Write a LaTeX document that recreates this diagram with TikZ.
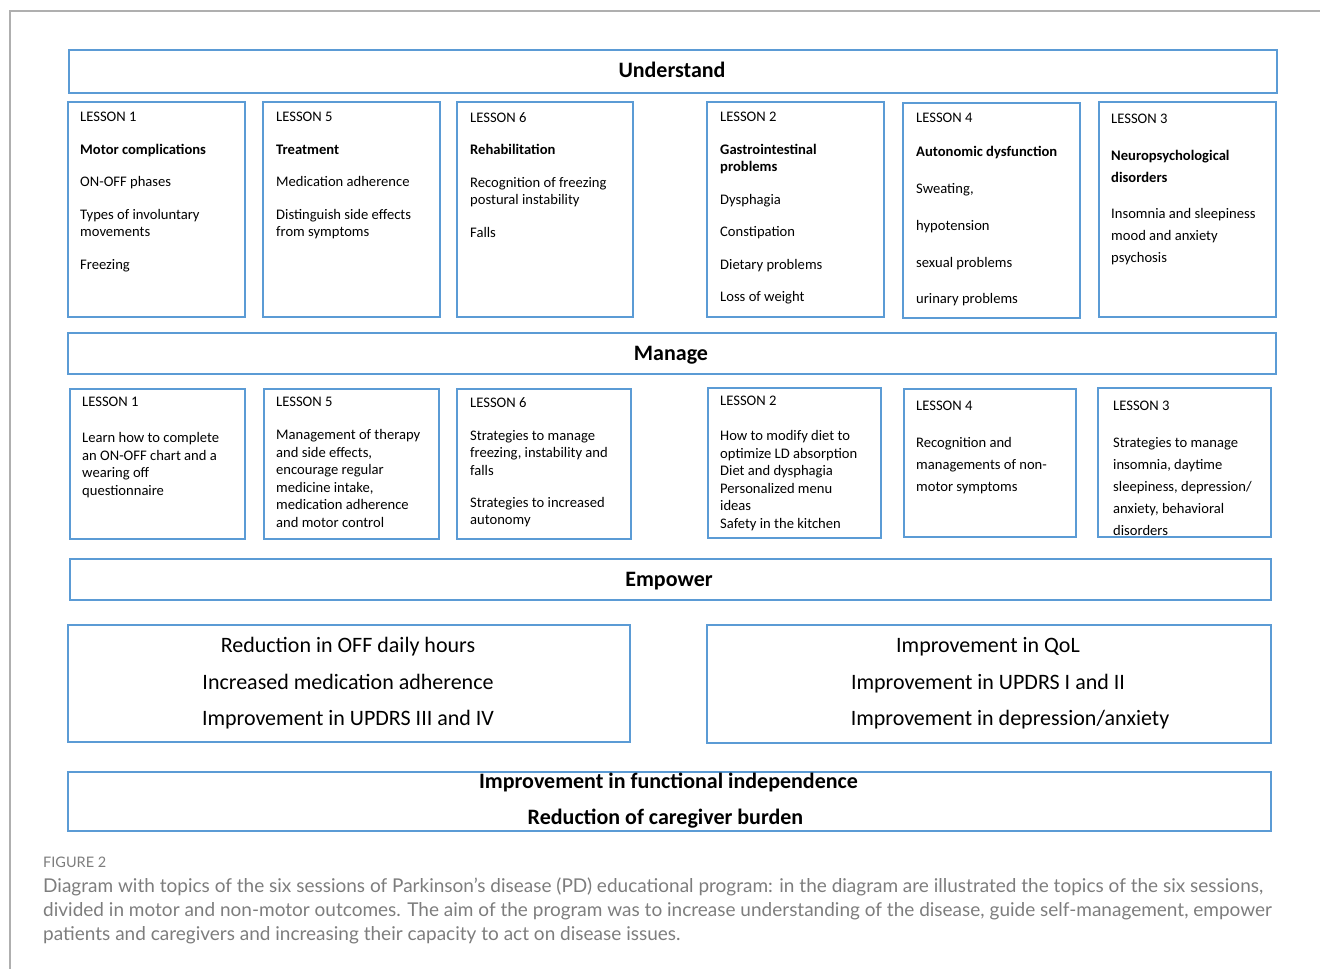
\documentclass[tikz,border=0pt]{standalone}
\usepackage{fontspec}
\setmainfont{Carlito}
\newfontfamily\capfont{Lato}
\definecolor{boxblue}{RGB}{91,155,213}
\definecolor{framegray}{RGB}{175,175,175}
\definecolor{capgray}{RGB}{125,125,125}
\begin{document}
\begin{tikzpicture}[x=1pt,y=-1pt,
  box/.style={draw=boxblue, line width=2pt, anchor=north west, inner sep=0pt},
  head/.style={anchor=base, inner sep=0pt, font=\fontsize{22}{26}\selectfont\bfseries},
  txt/.style={anchor=north west, inner sep=0pt, align=left, font=\fontsize{14.6}{17.5}\selectfont},
  txtw/.style={anchor=north west, inner sep=0pt, align=left, font=\fontsize{14.6}{22}\selectfont},
  outc/.style={anchor=base, inner sep=0pt, font=\fontsize{22}{26}\selectfont},
  capt/.style={anchor=base west, inner sep=0pt, text=capgray, font=\capfont\fontsize{19}{24}\selectfont}
]
\useasboundingbox (0,0) rectangle (1320,969);
\draw[framegray, line width=1.2pt] (10,969) -- (10,11) -- (1320,11);

% Understand
\node[box, minimum width=1208pt, minimum height=43pt] (und) at (68,49) {};
\node[head] (undt) at (672,77.5) {Understand};

% row 1 boxes
\node[box, minimum width=177pt, minimum height=215pt] (a1) at (67,101) {};
\node[box, minimum width=177pt, minimum height=215pt] (a5) at (262,101) {};
\node[box, minimum width=176pt, minimum height=215pt] (a6) at (456,101) {};
\node[box, minimum width=177pt, minimum height=215pt] (a2) at (706,101) {};
\node[box, minimum width=177pt, minimum height=215pt] (a4) at (902,102) {};
\node[box, minimum width=177pt, minimum height=215pt] (a3) at (1098,101) {};

\node[txt] (a1t) at (80,112.3) {LESSON 1\\[15pt]\textbf{Motor complications}\\[15pt]ON-OFF phases\\[15pt]Types of involuntary\\movements\\[15.5pt]Freezing};
\node[txt] (a5t) at (276,112.3) {LESSON 5\\[15pt]\textbf{Treatment}\\[15pt]Medication adherence\\[15pt]Distinguish side effects\\from symptoms};
\node[txt] (a6t) at (470,112.3) {LESSON 6\\[15pt]\textbf{Rehabilitation}\\[15pt]Recognition of freezing\\postural instability\\[15pt]Falls};
\node[txt] (a2t) at (720,112.3) {LESSON 2\\[15pt]\textbf{Gastrointestinal}\\\textbf{problems}\\[15pt]Dysphagia\\[15pt]Constipation\\[15pt]Dietary problems\\[15pt]Loss of weight};
\node[txt] (a4t) at (916,113.3) {LESSON 4\\[16.5pt]\textbf{Autonomic dysfunction}\\[19.5pt]Sweating,\\[19pt]hypotension\\[19.5pt]sexual problems\\[19pt]urinary problems};
\node[txtw] (a3t) at (1111,114.3) {LESSON 3\\[15pt]\textbf{Neuropsychological}\\\textbf{disorders}\\[14pt]Insomnia and sleepiness\\mood and anxiety\\psychosis};

% Manage
\node[box, minimum width=1208pt, minimum height=41pt] (man) at (67,332) {};
\node[head] (mant) at (671,360.5) {Manage};

% row 2 boxes
\node[box, minimum width=175pt, minimum height=150pt] (b1) at (69,388) {};
\node[box, minimum width=175pt, minimum height=150pt] (b5) at (263,388) {};
\node[box, minimum width=174pt, minimum height=150pt] (b6) at (456,388) {};
\node[box, minimum width=173pt, minimum height=150pt] (b2) at (707,387) {};
\node[box, minimum width=172pt, minimum height=148pt] (b4) at (903,388) {};
\node[box, minimum width=173pt, minimum height=149pt] (b3) at (1097,387) {};

\node[txt] (b1t) at (82,397.3) {LESSON 1\\[18.5pt]Learn how to complete\\an ON-OFF chart and a\\wearing off\\questionnaire};
\node[txt] (b5t) at (276,397.3) {LESSON 5\\[15.5pt]Management of therapy\\and side effects,\\encourage regular\\medicine intake,\\medication adherence\\and motor control};
\node[txt] (b6t) at (470,397.3) {LESSON 6\\[15.5pt]Strategies to manage\\freezing, instability and\\falls\\[14.5pt]Strategies to increased\\autonomy};
\node[txt] (b2t) at (720,396.3) {LESSON 2\\[17.5pt]How to modify diet to\\optimize LD absorption\\Diet and dysphagia\\Personalized menu\\ideas\\Safety in the kitchen};
\node[txtw] (b4t) at (916,401.3) {LESSON 4\\[15pt]Recognition and\\managements of non-\\motor symptoms};
\node[txtw] (b3t) at (1113,401.3) {LESSON 3\\[15pt]Strategies to manage\\insomnia, daytime\\sleepiness, depression/\\anxiety, behavioral\\disorders};

% Empower
\node[box, minimum width=1201pt, minimum height=41pt] (emp) at (69,558) {};
\node[head] (empt) at (669,586.5) {Empower};

% outcomes
\node[box, minimum width=562pt, minimum height=117pt] (oL) at (67,624) {};
\node[box, minimum width=564pt, minimum height=118pt] (oR) at (706,624) {};
\node[outc] (oL1) at (348,652.5) {Reduction in OFF daily hours};
\node[outc] (oL2) at (348,689) {Increased medication adherence};
\node[outc] (oL3) at (348,725.5) {Improvement in UPDRS III and IV};
\node[outc] (oR1) at (988,652.5) {Improvement in QoL};
\node[outc] (oR2) at (988,689) {Improvement in UPDRS I and II};
\node[outc] (oR3) at (1010,725.5) {Improvement in depression/anxiety};

% final
\node[box, minimum width=1203pt, minimum height=59pt] (fin) at (67,771) {};
\node[head] (fin1) at (668.5,788.5) {Improvement in functional independence};
\node[head] (fin2) at (665.5,824.5) {Reduction of caregiver burden};

% caption
\node[anchor=base west, inner sep=0pt, text=capgray, font=\capfont\fontsize{14.5}{17}\selectfont] (fig) at (43,867) {FIGURE 2};
\node[capt] (c1) at (43,892) {Diagram with topics of the six sessions of Parkinson’s disease (PD) educational program: in the diagram are illustrated the topics of the six sessions,};
\node[capt] (c2) at (43,916) {divided in motor and non-motor outcomes. The aim of the program was to increase understanding of the disease, guide self-management, empower};
\node[capt] (c3) at (43,940) {patients and caregivers and increasing their capacity to act on disease issues.};
\end{tikzpicture}
\end{document}
